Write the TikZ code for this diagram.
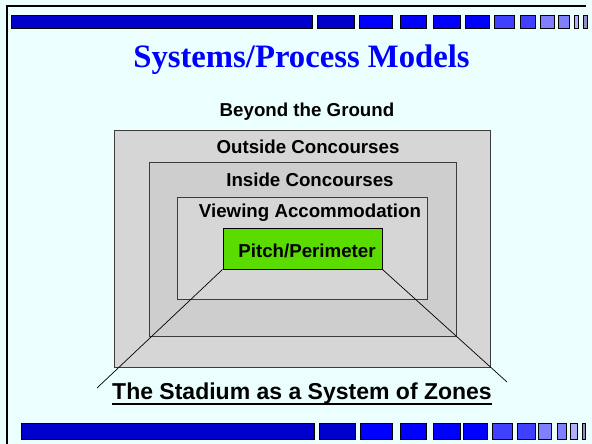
\documentclass[tikz,border=0pt]{standalone}
\usepackage{fontspec}
\newfontfamily\titlefont{Liberation Serif}
\newfontfamily\labelfont{Liberation Sans}
\definecolor{bgcol}{RGB}{235,255,255}
\definecolor{barA}{RGB}{0,0,204}
\definecolor{barB}{RGB}{0,0,255}
\definecolor{barC}{RGB}{64,64,255}
\definecolor{barD}{RGB}{128,128,255}
\definecolor{barE}{RGB}{176,176,255}
\definecolor{barF}{RGB}{144,144,192}
\definecolor{zoneA}{RGB}{214,214,214}
\definecolor{zoneB}{RGB}{206,206,206}
\definecolor{pitchgreen}{RGB}{90,220,0}
\definecolor{edgegray}{RGB}{60,60,60}
\begin{document}
\begin{tikzpicture}[x=1pt,y=-1pt,
  zonebox/.style={draw=edgegray,line width=1pt,inner sep=0pt,rectangle},
  lbl/.style={inner sep=0pt,anchor=base,font=\labelfont\bfseries\fontsize{18.7}{20}\selectfont},
  barblock/.style={draw=black,line width=0.8pt}]
\fill[bgcol] (0,0) rectangle (592,444);
\useasboundingbox (0,0) rectangle (592,444);
% frame
\draw[line width=2.5pt] (7,444) -- (7,6) -- (586,6);
% top bar
\foreach \a/\b/\c in {11/312/barA,317/354/barA,359/392/barB,400/426/barB,433/460/barB,465/489/barB,494/514/barC,520/535/barC,540/554/barD,558/569/barD,574/578/barE,583/587/barF}
  \draw[barblock,fill=\c] (\a,15) rectangle (\b,28);
% bottom bar
\foreach \a/\b/\c in {21/314/barA,319/355/barA,360/392/barB,400/426/barB,433/460/barB,463/487/barB,492/512/barC,517/535/barC,538/551/barD,557/566/barD,570/577/barE,582/585/barF}
  \draw[barblock,fill=\c] (\a,423) rectangle (\b,439);
% title
\node[inner sep=0pt,anchor=base,text=barB,font=\titlefont\bfseries\fontsize{32.7}{36}\selectfont] (title) at (301.5,68) {Systems/Process Models};
% zones
\node[lbl] (beyond) at (307,117) {Beyond the Ground};
\node[zonebox,fill=zoneA,minimum width=376pt,minimum height=237pt] (outer) at (302,248.5) {};
\node[zonebox,fill=zoneB,minimum width=307pt,minimum height=174pt] (inner) at (302.5,249) {};
\node[zonebox,fill=zoneA,minimum width=250pt,minimum height=102pt] (viewing) at (302,248) {};
\node[zonebox,fill=pitchgreen,draw=black,minimum width=159pt,minimum height=41pt] (pitch) at (302.5,248.5) {};
\node[lbl] (outerlbl) at (308,153) {Outside Concourses};
\node[lbl] (innerlbl) at (310,186) {Inside Concourses};
\node[lbl] (viewlbl) at (310,217) {Viewing Accommodation};
\node[lbl] (pitchlbl) at (307,257) {Pitch/Perimeter};
% perspective lines
\coordinate (ll) at (97,388);
\coordinate (lr) at (507,382);
\draw[line width=0.7pt] (pitch.south west) -- (ll);
\draw[line width=0.7pt] (pitch.south east) -- (lr);
% caption
\node[inner sep=0pt,anchor=base,font=\labelfont\bfseries\fontsize{23}{26}\selectfont] (stad) at (302,399) {The Stadium as a System of Zones};
\draw[line width=2pt] ([yshift=-5pt]stad.base west) -- ([yshift=-5pt]stad.base east);
\end{tikzpicture}
\end{document}
